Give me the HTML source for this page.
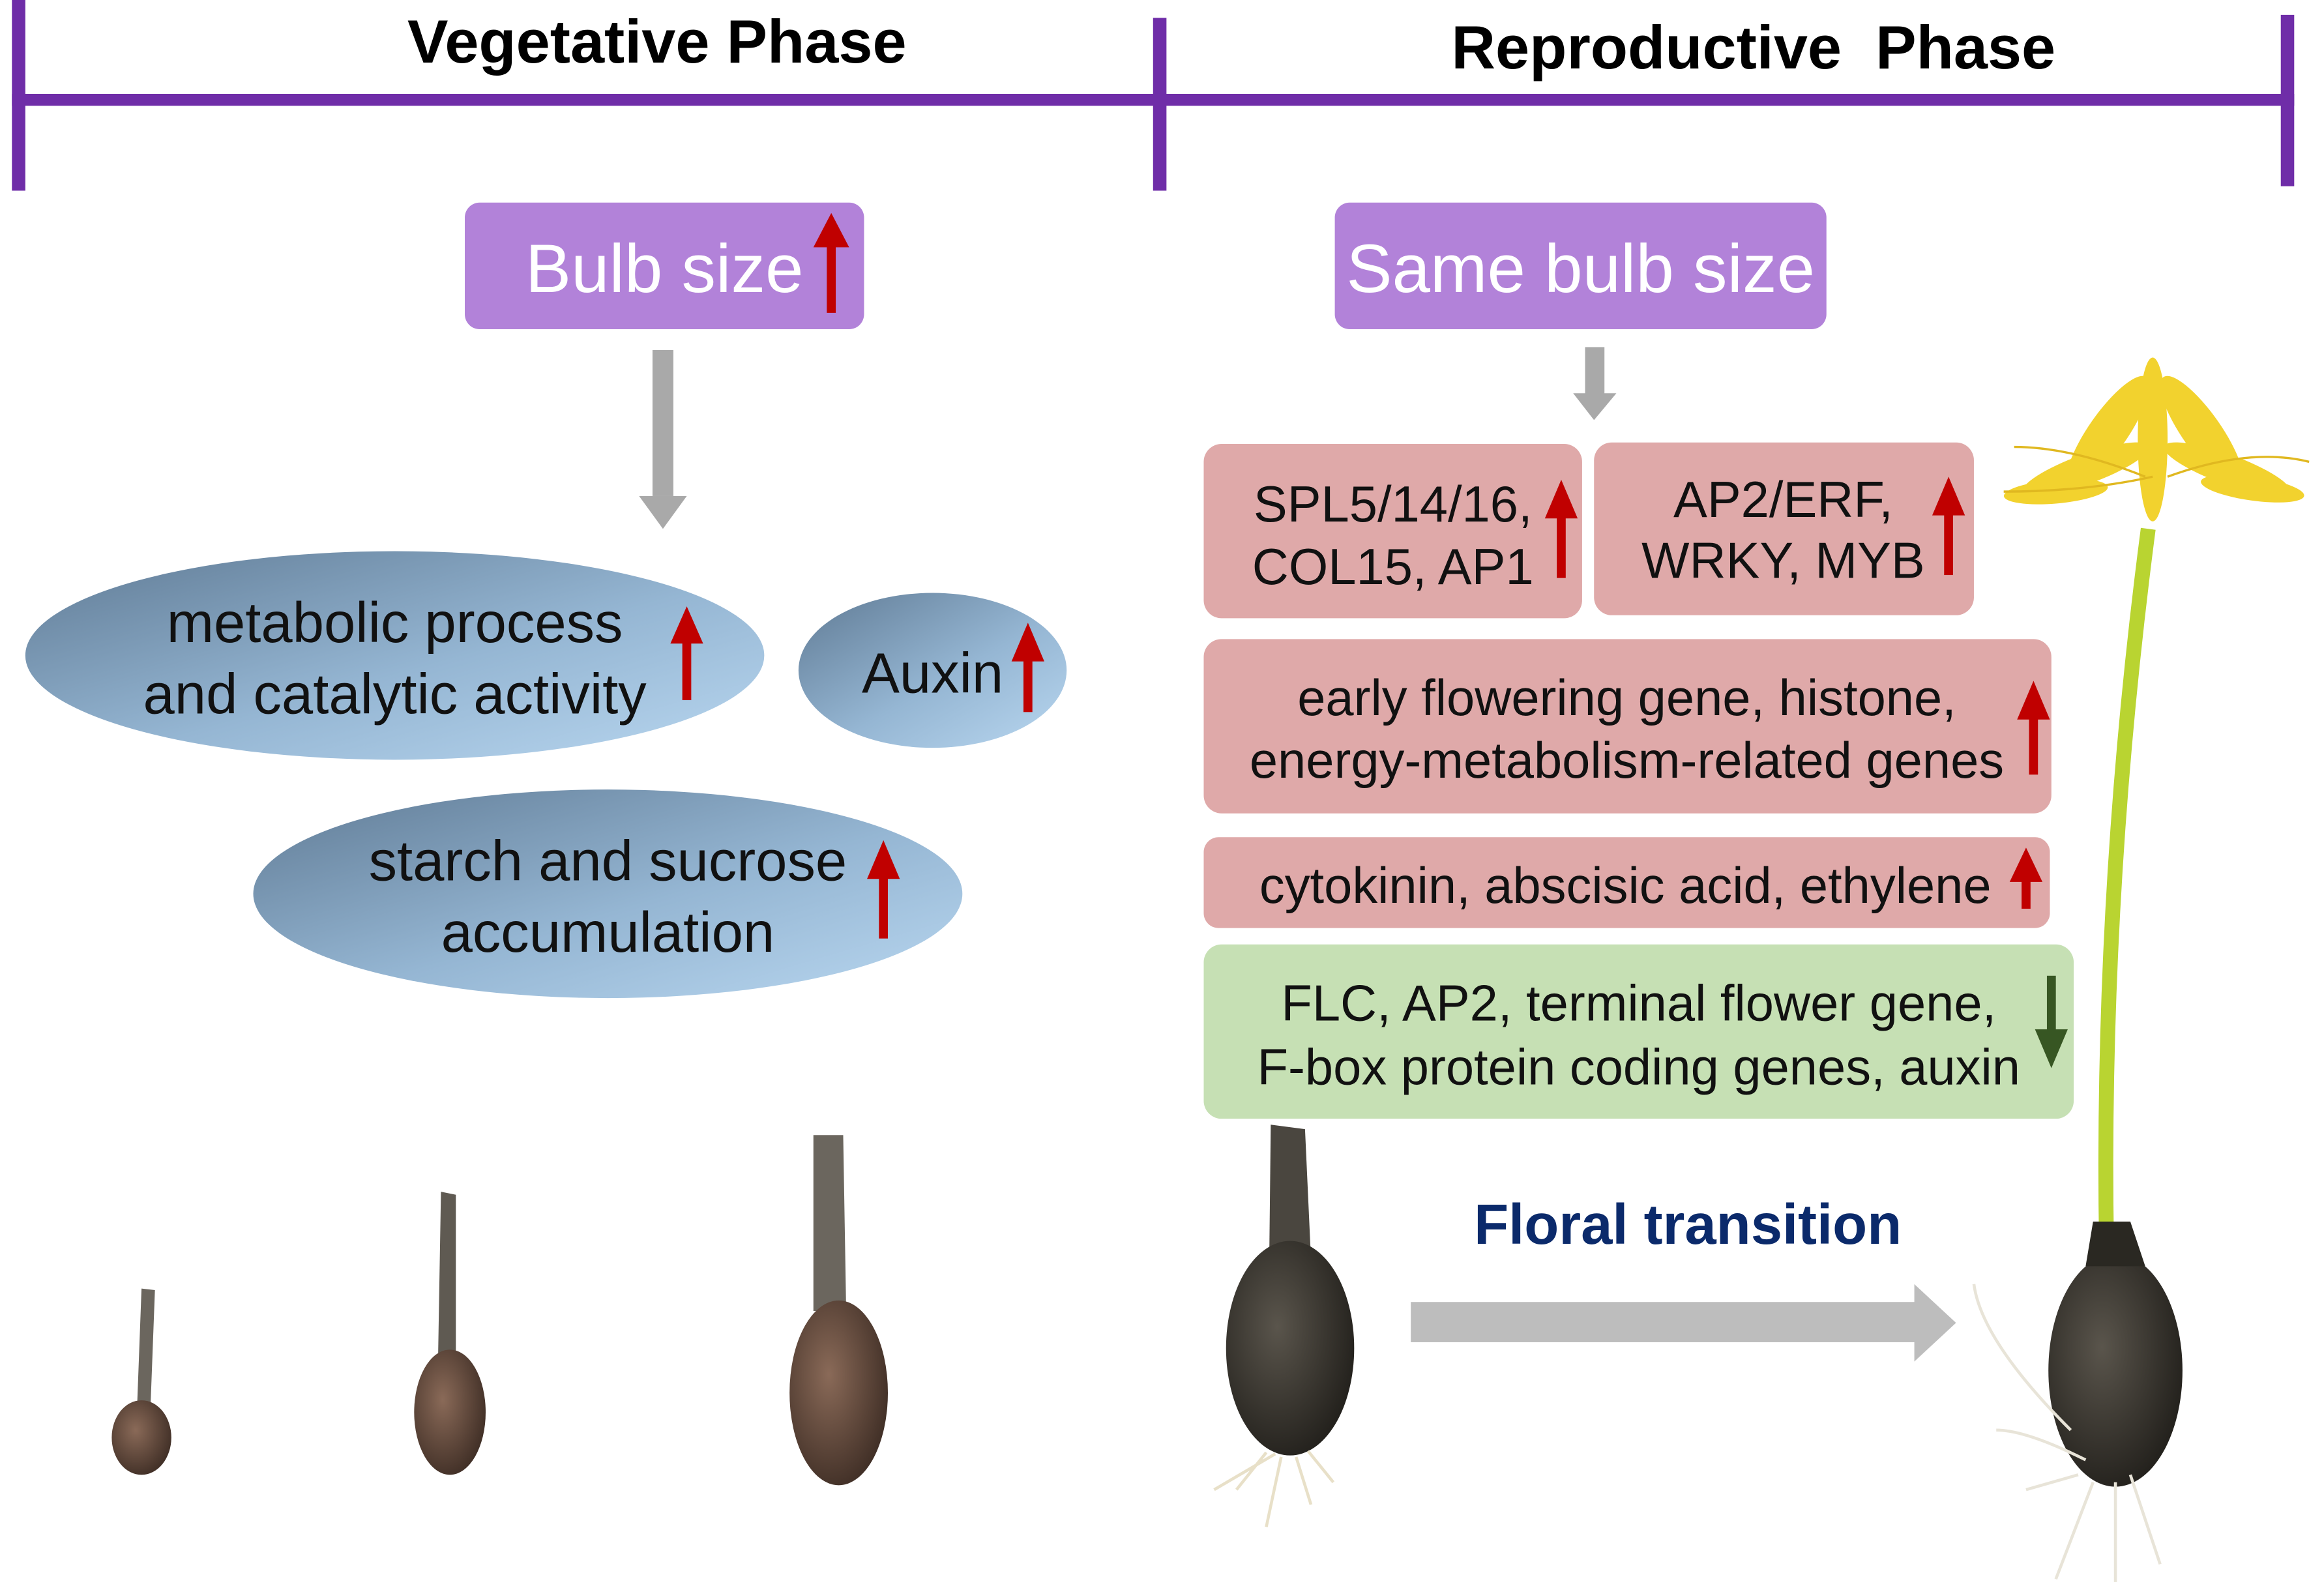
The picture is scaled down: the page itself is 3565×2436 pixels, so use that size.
<!DOCTYPE html>
<html><head><meta charset="utf-8"><style>
html,body{margin:0;padding:0;background:#fff;}
svg{display:block;}
text{font-family:"Liberation Sans",Arial,sans-serif;}
</style></head><body>
<svg width="3565" height="2436" viewBox="0 0 1560 1066" preserveAspectRatio="none" xmlns="http://www.w3.org/2000/svg">
<defs>
<linearGradient id="eg" x1="0" y1="0" x2="1" y2="1">
<stop offset="0" stop-color="#5f7a94"/><stop offset="0.55" stop-color="#95b6d3"/><stop offset="1" stop-color="#b9d7f0"/>
</linearGradient>
<radialGradient id="bb" cx="0.4" cy="0.4" r="0.7"><stop offset="0" stop-color="#8a6a58"/><stop offset="1" stop-color="#3a2a22"/></radialGradient>
<radialGradient id="bd" cx="0.4" cy="0.4" r="0.7"><stop offset="0" stop-color="#5a554c"/><stop offset="1" stop-color="#1e1c18"/></radialGradient>
</defs>
<g fill="#6f2da8">
<rect x="8" y="63" width="1532" height="8"/>
<rect x="8" y="0" width="9" height="128"/>
<rect x="774" y="12" width="9" height="116"/>
<rect x="1531" y="10" width="9" height="115"/>
</g>
<text x="441" y="42" font-size="41" font-weight="bold" text-anchor="middle">Vegetative Phase</text>
<text x="1177" y="46" font-size="41" font-weight="bold" text-anchor="middle" xml:space="preserve">Reproductive  Phase</text>

<rect x="312" y="136" width="268" height="85" rx="10" fill="#b282d9"/>
<text x="446" y="196" font-size="46" fill="#fff" text-anchor="middle">Bulb size</text>
<g fill="#c00000"><rect x="555" y="162" width="6" height="48"/><polygon points="546,166 558,143 570,166"/></g>

<rect x="438" y="235" width="14" height="98" fill="#a9a9a9"/>
<polygon points="429,333 461,333 445,355" fill="#a9a9a9"/>

<ellipse cx="265" cy="440" rx="248" ry="70" fill="url(#eg)"/>
<ellipse cx="626" cy="450" rx="90" ry="52" fill="url(#eg)"/>
<ellipse cx="408" cy="600" rx="238" ry="70" fill="url(#eg)"/>
<g font-size="38" text-anchor="middle" fill="#111">
<text x="265" y="431">metabolic process</text>
<text x="265" y="479">and catalytic activity</text>
<text x="626" y="465">Auxin</text>
<text x="408" y="591">starch and sucrose</text>
<text x="408" y="639">accumulation</text>
</g>
<g fill="#c00000">
<rect x="458" y="428" width="6" height="42"/><polygon points="450,432 461,407 472,432"/>
<rect x="687" y="440" width="6" height="38"/><polygon points="679,444 690,418 701,444"/>
<rect x="590" y="586" width="6" height="44"/><polygon points="582,590 593,564 604,590"/>
</g>

<rect x="896" y="136" width="330" height="85" rx="10" fill="#b282d9"/>
<text x="1061" y="196" font-size="46" fill="#fff" text-anchor="middle">Same bulb size</text>
<rect x="1064" y="233" width="13" height="32" fill="#a9a9a9"/>
<polygon points="1056,264 1085,264 1070,282" fill="#a9a9a9"/>

<g fill="#dfa9a9">
<rect x="808" y="298" width="254" height="117" rx="12"/>
<rect x="1070" y="297" width="255" height="116" rx="12"/>
<rect x="808" y="429" width="569" height="117" rx="12"/>
<rect x="808" y="562" width="568" height="61" rx="10"/>
</g>
<rect x="808" y="634" width="584" height="117" rx="12" fill="#c6e0b4"/>
<g font-size="34" text-anchor="middle" fill="#111">
<text x="935" y="350">SPL5/14/16,</text>
<text x="935" y="392">COL15, AP1</text>
<text x="1197" y="347">AP2/ERF,</text>
<text x="1197" y="388">WRKY, MYB</text>
<text x="1092" y="480">early flowering gene, histone,</text>
<text x="1092" y="522">energy-metabolism-related genes</text>
<text x="1091" y="606">cytokinin, abscisic acid, ethylene</text>
<text x="1100" y="685">FLC, AP2, terminal flower gene,</text>
<text x="1100" y="728">F-box protein coding genes, auxin</text>
</g>
<g fill="#c00000">
<rect x="1045" y="344" width="6" height="44"/><polygon points="1037,348 1048,322 1059,348"/>
<rect x="1305" y="342" width="6" height="44"/><polygon points="1297,346 1308,320 1319,346"/>
<rect x="1362" y="479" width="6" height="41"/><polygon points="1354,483 1365,457 1376,483"/>
<rect x="1357" y="588" width="6" height="22"/><polygon points="1349,592 1360,569 1371,592"/>
</g>
<g fill="#375623"><rect x="1374" y="655" width="6" height="40"/><polygon points="1366,691 1377,717 1388,691"/></g>

<text x="1133" y="835" font-size="38" font-weight="bold" fill="#0b2a6b" text-anchor="middle">Floral transition</text>
<rect x="947" y="874" width="340" height="27" fill="#bdbdbd"/>
<polygon points="1285,862 1313,888 1285,914" fill="#bdbdbd"/>

<path d="M95,865 L104,866 L101,945 L92,945 Z" fill="#6b665e"/>
<ellipse cx="95" cy="965" rx="20" ry="25" fill="url(#bb)"/>
<path d="M296,800 L306,802 L306,915 L294,915 Z" fill="#5f5a52"/>
<ellipse cx="302" cy="948" rx="24" ry="42" fill="url(#bb)"/>
<path d="M546,762 L566,762 L568,880 L546,880 Z" fill="#6b665e"/>
<ellipse cx="563" cy="935" rx="33" ry="62" fill="url(#bb)"/>
<path d="M853,755 L876,758 L880,845 L852,845 Z" fill="#4a463f"/>
<ellipse cx="866" cy="905" rx="43" ry="72" fill="url(#bd)"/>
<g stroke="#e8e0c8" stroke-width="2" fill="none">
<path d="M850,975 L830,1000 M860,978 L850,1025 M870,978 L880,1010 M878,974 L895,995 M856,976 L815,1000"/>
</g>
<path d="M1414,835 Q1410,600 1442,355" stroke="#b9d431" stroke-width="10" fill="none"/>
<ellipse cx="1420" cy="920" rx="45" ry="78" fill="url(#bd)"/>
<path d="M1405,820 L1430,820 L1440,850 L1400,850 Z" fill="#2a2822"/>
<g stroke="#e8e4d8" stroke-width="2" fill="none">
<path d="M1400,980 Q1360,960 1340,960 M1395,990 L1360,1000 M1405,995 L1380,1060 M1420,995 L1420,1062 M1430,990 L1450,1050 M1390,960 Q1330,900 1325,862"/>
</g>
<g fill="#f2d22e">
<ellipse cx="1445" cy="295" rx="10" ry="55"/>
<ellipse cx="1415" cy="290" rx="45" ry="13" transform="rotate(-55 1415 290)"/>
<ellipse cx="1478" cy="290" rx="45" ry="13" transform="rotate(55 1478 290)"/>
<ellipse cx="1400" cy="315" rx="45" ry="10" transform="rotate(-20 1400 315)"/>
<ellipse cx="1495" cy="315" rx="45" ry="10" transform="rotate(20 1495 315)"/>
<ellipse cx="1380" cy="330" rx="35" ry="8" transform="rotate(-5 1380 330)"/>
<ellipse cx="1512" cy="328" rx="35" ry="8" transform="rotate(8 1512 328)"/>
</g>
<g stroke="#e0b820" stroke-width="1.5" fill="none">
<path d="M1440,320 Q1390,300 1352,300 M1455,320 Q1510,300 1550,310 M1445,320 Q1400,330 1345,330"/>
</g>
</svg>
</body></html>
